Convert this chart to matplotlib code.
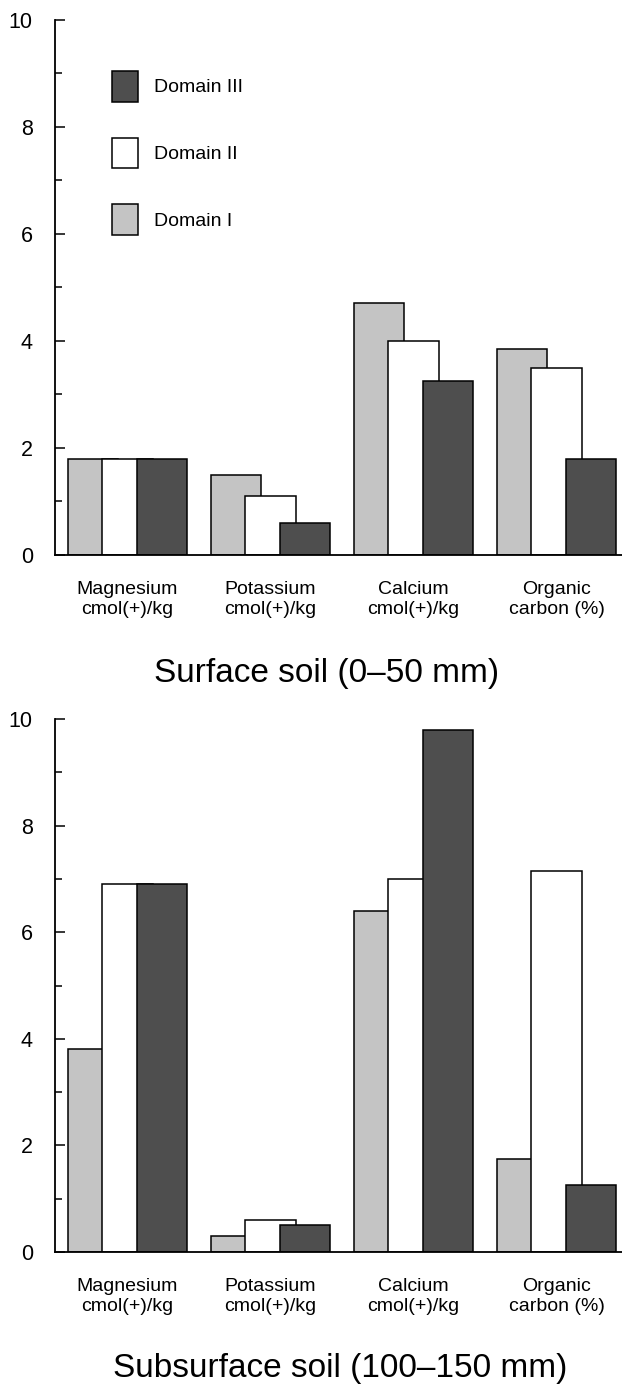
import numpy as np
import matplotlib
matplotlib.use("Agg")
import matplotlib.pyplot as plt
from matplotlib.ticker import MultipleLocator

plt.rcParams['font.family'] = ['Liberation Sans', 'DejaVu Sans']

# ----------------------------
# DATA
# ----------------------------
categories = ["Magnesium\ncmol(+)/kg", "Potassium\ncmol(+)/kg",
              "Calcium\ncmol(+)/kg", "Organic\ncarbon (%)"]
domains = ["Domain I", "Domain II", "Domain III"]

surface_d1 = [1.8, 1.5, 4.7, 3.85]
surface_d2 = [1.8, 1.1, 4.0, 3.5]
surface_d3 = [1.8, 0.6, 3.25, 1.8]

subsurface_d1 = [3.8, 0.3, 6.4, 1.75]
subsurface_d2 = [6.9, 0.6, 7.0, 7.15]
subsurface_d3 = [6.9, 0.5, 9.8, 1.25]

titles = ["Surface soil (0\u201350 mm)", "Subsurface soil (100\u2013150 mm)"]

# ----------------------------
# STYLE
# ----------------------------
fills = ["#c4c4c4", "white", "#4e4e4e"]
bar_w = 0.35       # overlapping bars
step = 0.241       # offset between bars in a group

W, H = 622, 1385
fig = plt.figure(figsize=(W / 100, H / 100), dpi=100)

def px_axes(left, top, right, bottom):
    return fig.add_axes([left / W, 1 - bottom / H, (right - left) / W, (bottom - top) / H])

ax_top = px_axes(55, 19.5, 622, 555)
ax_bot = px_axes(55, 719, 622, 1252)

def draw_panel(ax, series):
    x = np.arange(len(categories))
    bars = []
    for i, vals in enumerate(series):
        b = ax.bar(x + (i - 1) * step, vals, width=bar_w, color=fills[i],
                   edgecolor="black", linewidth=1.1)
        bars.append(b)
    ax.set_xlim(-0.507, 3.458)
    ax.set_ylim(0, 10)
    ax.yaxis.set_major_locator(MultipleLocator(2))
    ax.yaxis.set_minor_locator(MultipleLocator(1))
    ax.tick_params(axis="y", which="major", direction="in", length=7, width=1.1,
                   labelsize=15.5, pad=16)
    ax.tick_params(axis="y", which="minor", direction="in", length=5, width=1.1)
    ax.set_xticks(x, categories)
    ax.tick_params(axis="x", length=0, labelsize=14, pad=19)
    for lbl in ax.get_xticklabels():
        lbl.set_linespacing(1.2)
    ax.spines["top"].set_visible(False)
    ax.spines["right"].set_visible(False)
    ax.spines["left"].set_linewidth(1.3)
    ax.spines["bottom"].set_linewidth(1.3)
    return bars

bars_top = draw_panel(ax_top, [surface_d1, surface_d2, surface_d3])
draw_panel(ax_bot, [subsurface_d1, subsurface_d2, subsurface_d3])

# legend (Domain III on top)
ax_top.legend([bars_top[2], bars_top[1], bars_top[0]],
              [domains[2], domains[1], domains[0]],
              loc="upper left", bbox_to_anchor=(112 / W, 1 - 71 / H),
              bbox_transform=fig.transFigure, frameon=False, fontsize=14,
              handlelength=1.35, handleheight=2.05, handletextpad=0.8,
              labelspacing=1.85, borderpad=0, borderaxespad=0)

# panel titles
fig.text(327 / W, 1 - 682 / H, titles[0], ha="center", va="baseline", fontsize=24)
fig.text(340 / W, 1 - 1377 / H, titles[1], ha="center", va="baseline", fontsize=24)

fig.savefig("out.png", dpi=100)
